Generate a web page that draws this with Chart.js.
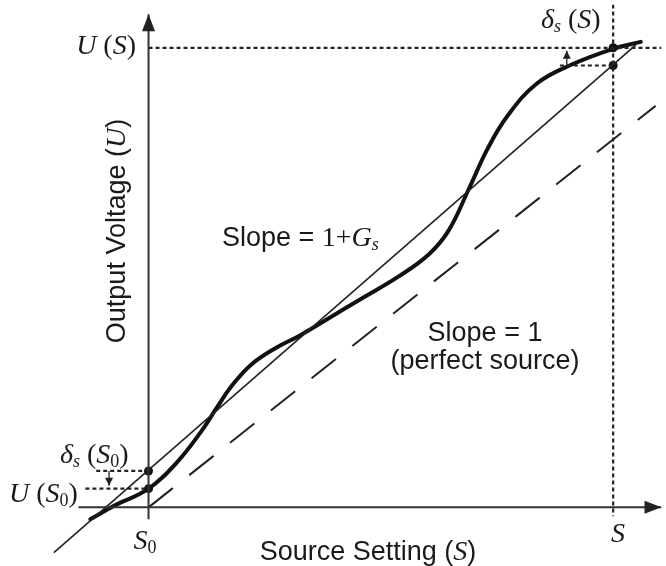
<!DOCTYPE html>
<html>
<head>
<meta charset="utf-8">
<script src="https://cdn.jsdelivr.net/npm/chart.js@4"></script>
<style>
  html, body { margin: 0; padding: 0; background: #fff; }
  #wrap { width: 666px; height: 566px; }
</style>
</head>
<body>
<div id="wrap"><canvas id="grafico" width="666" height="566"></canvas></div>
<script>
// Figure drawn in a pixel-like frame: x = setting, y = output (downwards)
const curveX = [87, 110, 146, 175, 200, 215, 230, 250, 275, 300, 330, 360, 400, 430, 450, 470, 490, 510, 540, 575, 617, 645];
const curveY = [523, 510, 492, 465, 433, 410, 388, 366, 349, 336, 318, 300, 276, 254, 230, 189, 146, 113, 80, 61, 45, 38];

const gainLineX = [50, 640];
const gainLineY = [557, 41];

const idealLineX = [146, 660];
const idealLineY = [511, 103];

const xAxisX = [75, 666];
const xAxisY = [511, 511];
const yAxisX = [146, 146];
const yAxisY = [523, 10];

const guideSX = [617, 617];
const guideSY = [0, 520];
const guideUSX = [146, 666];
const guideUSY = [44, 44];
const guideDSX = [563, 617];
const guideDSY = [62, 62];
const guideUS0X = [82, 146];
const guideUS0Y = [492, 492];
const guideDS0X = [93, 146];
const guideDS0Y = [474, 474];

const arrowUpX = [570, 570];
const arrowUpY = [62, 47];
const arrowDownX = [106, 106];
const arrowDownY = [474, 489];

const markerX = [146, 146, 617, 617];
const markerY = [474, 492, 44, 62];

function pts(xs, ys) {
    return xs.map((x, i) => ({ x: x, y: ys[i] }));
}

function linha(xs, ys, extra) {
    return Object.assign({
        data: pts(xs, ys),
        showLine: true,
        pointRadius: 0,
        borderColor: "#222",
        borderWidth: 1.5,
        fill: false,
    }, extra || {});
}

const SANS = "Liberation Sans, Arial, sans-serif";
const SERIF = "Liberation Serif, Times New Roman, serif";

// text runs: [texto, fonte, deslocamento vertical]
function runs(ctx, parts, x, y, align) {
    let total = 0;
    parts.forEach((p) => {
        ctx.font = p[1];
        total += ctx.measureText(p[0]).width;
    });
    let cx = align === "right" ? x - total : align === "center" ? x - total / 2 : x;
    parts.forEach((p) => {
        ctx.font = p[1];
        ctx.fillText(p[0], cx, y + (p[2] || 0));
        cx += ctx.measureText(p[0]).width;
    });
}

const setas = [
    { ds: 0, w: 13, h: 17 },
    { ds: 1, w: 13, h: 17 },
    { ds: 2, w: 8, h: 8 },
    { ds: 3, w: 8, h: 8 },
];

const extras = {
    id: "extras",
    afterDatasetsDraw(chart) {
        const ctx = chart.ctx;
        const sx = chart.scales.x, sy = chart.scales.y;
        ctx.save();
        ctx.fillStyle = "#222";

        // arrowheads at line ends
        setas.forEach((s) => {
            const d = chart.data.datasets[s.ds].data;
            const a = d[d.length - 2], b = d[d.length - 1];
            const x1 = sx.getPixelForValue(a.x), y1 = sy.getPixelForValue(a.y);
            const x2 = sx.getPixelForValue(b.x), y2 = sy.getPixelForValue(b.y);
            const ang = Math.atan2(y2 - y1, x2 - x1);
            ctx.save();
            ctx.translate(x2, y2);
            ctx.rotate(ang);
            ctx.beginPath();
            ctx.moveTo(0, 0);
            ctx.lineTo(-s.h, -s.w / 2);
            ctx.lineTo(-s.h, s.w / 2);
            ctx.closePath();
            ctx.fill();
            ctx.restore();
        });

        ctx.fillStyle = "#1a1a1a";
        ctx.textBaseline = "alphabetic";
        const it = (sz) => "italic " + sz + "px " + SERIF;
        const rm = (sz) => sz + "px " + SERIF;
        const sn = (sz) => sz + "px " + SANS;

        runs(ctx, [["U", it(28)], [" (", rm(28)], ["S", it(28)], [")", rm(28)]], 136, 54, "right");
        runs(ctx, [["\u03b4", it(28)], ["s", it(18), 4], [" (", rm(28)], ["S", it(28)], [")", rm(28)]], 541, 28, "left");
        runs(ctx, [["\u03b4", it(28)], ["s", it(18), 4], [" (", rm(28)], ["S", it(28)], ["0", rm(18), 4], [")", rm(28)]], 60, 463, "left");
        runs(ctx, [["U", it(28)], [" (", rm(28)], ["S", it(28)], ["0", rm(18), 4], [")", rm(28)]], 9, 502, "left");
        runs(ctx, [["S", it(28)], ["0", rm(18), 4]], 145, 549, "center");
        runs(ctx, [["S", it(28)]], 618, 542, "center");

        runs(ctx, [["Source Setting (", sn(27)], ["S", it(28)], [")", sn(27)]], 368, 560, "center");
        runs(ctx, [["Slope = ", sn(27)], ["1+", rm(28)], ["G", it(28)], ["s", it(18), 4]], 222, 246, "left");
        runs(ctx, [["Slope = 1", sn(27)]], 485, 341, "center");
        runs(ctx, [["(perfect source)", sn(27)]], 485, 369, "center");

        ctx.save();
        ctx.translate(125, 231);
        ctx.rotate(-Math.PI / 2);
        runs(ctx, [["Output Voltage (", sn(27)], ["U", it(28)], [")", sn(27)]], 0, 0, "center");
        ctx.restore();

        ctx.restore();
    },
};

const dotted = { borderDash: [4, 3], borderWidth: 2.2, borderColor: "#222" };

new Chart(document.getElementById("grafico"), {
    type: "scatter",
    data: {
        datasets: [
            linha(xAxisX, xAxisY, { borderWidth: 2, borderColor: "#333" }),
            linha(yAxisX, yAxisY, { borderWidth: 2, borderColor: "#333" }),
            linha(arrowUpX, arrowUpY, { borderWidth: 1.3 }),
            linha(arrowDownX, arrowDownY, { borderWidth: 1.3 }),
            linha(guideSX, guideSY, dotted),
            linha(guideUSX, guideUSY, dotted),
            linha(guideDSX, guideDSY, dotted),
            linha(guideUS0X, guideUS0Y, dotted),
            linha(guideDS0X, guideDS0Y, dotted),
            linha(idealLineX, idealLineY, { borderDash: [31, 21], borderWidth: 2 }),
            linha(gainLineX, gainLineY, { borderWidth: 1.6 }),
            linha(curveX, curveY, {
                borderWidth: 4,
                borderColor: "#111",
                tension: 0.4,
                borderCapStyle: "round",
            }),
            {
                data: pts(markerX, markerY),
                pointRadius: 4.5,
                pointBackgroundColor: "#111",
                pointBorderWidth: 0,
                showLine: false,
            },
        ],
    },
    options: {
        responsive: false,
        animation: false,
        layout: { padding: 0 },
        plugins: { legend: { display: false }, tooltip: { enabled: false } },
        scales: {
            x: { type: "linear", min: 0, max: 666, display: false },
            y: { type: "linear", min: 0, max: 566, reverse: true, display: false },
        },
    },
    plugins: [extras],
});
</script>
</body>
</html>
